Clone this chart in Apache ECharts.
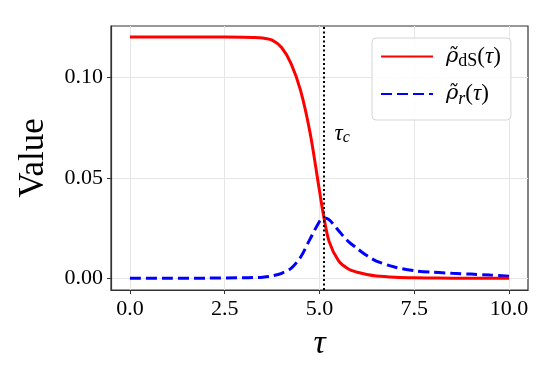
<!DOCTYPE html>
<html>
<head>
<meta charset="utf-8">
<script src="https://cdn.jsdelivr.net/npm/echarts@6/dist/echarts.min.js"></script>
<style>
  html, body { margin: 0; padding: 0; background: #fff; }
  #chart { width: 555px; height: 381px; }
</style>
</head>
<body>
<div id="chart"></div>
<script>
// values
const tau = [0, 1, 2, 3, 3.25, 3.5, 3.75, 4, 4.25, 4.5, 4.75, 5, 5.1, 5.25, 5.5, 5.75, 6, 6.25, 6.5, 7, 7.5, 8, 8.5, 9, 9.5, 10]
const rhoDS = [0.12, 0.12, 0.12, 0.1199, 0.1198, 0.1195, 0.1185, 0.1148, 0.1068, 0.0935, 0.0725, 0.0435, 0.032, 0.0185, 0.0088, 0.0048, 0.003, 0.0019, 0.0012, 0.0006, 0.0003, 0.0002, 0.0001, 0.0001, 0, 0]
const rhoR = [0, 0, 0.0001, 0.0003, 0.0004, 0.0006, 0.0012, 0.0025, 0.005, 0.0105, 0.0195, 0.0283, 0.0301, 0.0292, 0.0238, 0.0185, 0.0148, 0.0113, 0.0086, 0.0055, 0.0038, 0.003, 0.0025, 0.0021, 0.0016, 0.0011]
const tauC = 5.11
const xTicks = [0, 2.5, 5, 7.5, 10]
const yTicks = [0, 0.05, 0.1]
const seriesNames = ['ρ̃_dS(τ)', 'ρ̃_r(τ)']

const serif = 'Liberation Serif, Times New Roman, serif'
const chart = echarts.init(document.getElementById('chart'))

const pairs = vals => tau.map((t, i) => [t, vals[i]])

const legendRich = {
  rho: { fontFamily: 'DejaVu Serif', fontSize: 21, fontStyle: 'italic', color: '#000' },
  i: { fontFamily: serif, fontSize: 23, fontStyle: 'italic', color: '#000' },
  n: { fontFamily: serif, fontSize: 23, color: '#000' },
  s: { fontFamily: serif, fontSize: 18, color: '#000', padding: [10, 0, 0, 0] },
  si: { fontFamily: serif, fontSize: 18, fontStyle: 'italic', color: '#000', padding: [10, 0, 0, 0] }
}

const option = {
  animation: false,
  grid: {
    left: 111, right: 27, top: 26, bottom: 91,
    show: true, borderColor: '#333', borderWidth: 1.2
  },
  legend: {
    left: 372, top: 38,
    orient: 'vertical',
    padding: [7, 10, 12, 8],
    itemGap: 12,
    itemWidth: 52,
    itemHeight: 14,
    backgroundColor: 'rgba(255,255,255,0.85)',
    borderColor: '#d5d5d5',
    borderWidth: 1,
    borderRadius: 4,
    itemStyle: { opacity: 0 },
    data: seriesNames,
    formatter: name => name === seriesNames[0]
      ? '{rho|ρ̃}{s|dS}{n|(}{i|τ}{n|)}'
      : '{rho|ρ̃}{si|r}{n|(}{i|τ}{n|)}',
    textStyle: { rich: legendRich, padding: [0, 0, 0, 8] }
  },
  xAxis: {
    type: 'value',
    min: -0.5, max: 10.5,
    name: 'τ',
    nameLocation: 'middle',
    nameGap: 37,
    nameTextStyle: { fontFamily: serif, fontSize: 34, fontStyle: 'italic', color: '#000' },
    axisLine: { show: true, onZero: false, lineStyle: { color: '#333', width: 1.2 } },
    axisTick: { show: true, customValues: xTicks, length: 4, lineStyle: { color: '#333' } },
    axisLabel: {
      customValues: xTicks, margin: 8,
      fontFamily: serif, fontSize: 22, color: '#000',
      formatter: v => v.toFixed(1)
    },
    splitLine: { show: true, lineStyle: { color: '#e6e6e6', width: 1 } }
  },
  yAxis: {
    type: 'value',
    min: -0.0058, max: 0.1255,
    name: 'Value',
    nameLocation: 'middle',
    nameGap: 60,
    nameTextStyle: { fontFamily: serif, fontSize: 35, color: '#000' },
    axisLine: { show: true, onZero: false, lineStyle: { color: '#333', width: 1.2 } },
    axisTick: { show: true, customValues: yTicks, length: 4, lineStyle: { color: '#333' } },
    axisLabel: {
      customValues: yTicks, margin: 8,
      fontFamily: serif, fontSize: 22, color: '#000',
      formatter: v => v.toFixed(2)
    },
    splitLine: { show: true, lineStyle: { color: '#e6e6e6', width: 1 } }
  },
  series: [
    {
      name: seriesNames[0],
      type: 'line',
      data: pairs(rhoDS),
      smooth: 0.3,
      showSymbol: false,
      symbol: 'none',
      lineStyle: { color: '#ff0000', width: 3 },
      itemStyle: { color: '#ff0000' },
      z: 3,
      markLine: {
        silent: true,
        symbol: 'none',
        label: { show: false },
        lineStyle: { color: '#000', type: [2, 2.5], width: 2 },
        data: [{ xAxis: tauC }]
      }
    },
    {
      name: seriesNames[1],
      type: 'line',
      data: pairs(rhoR),
      smooth: 0.3,
      showSymbol: false,
      symbol: 'none',
      lineStyle: { color: '#0000ff', width: 3, type: [11, 5] },
      itemStyle: { color: '#0000ff' },
      z: 2,
      markPoint: {
        silent: true,
        symbol: 'circle',
        symbolSize: 0,
        label: {
          show: true,
          position: 'inside',
          formatter: '{i|τ}{s|c}',
          rich: {
            i: { fontFamily: serif, fontSize: 23, fontStyle: 'italic', color: '#000' },
            s: { fontFamily: serif, fontSize: 16, fontStyle: 'italic', color: '#000', padding: [9, 0, 0, 0] }
          }
        },
        data: [{ coord: [5.6, 0.072] }]
      }
    }
  ]
}

chart.setOption(option)
</script>
</body>
</html>
